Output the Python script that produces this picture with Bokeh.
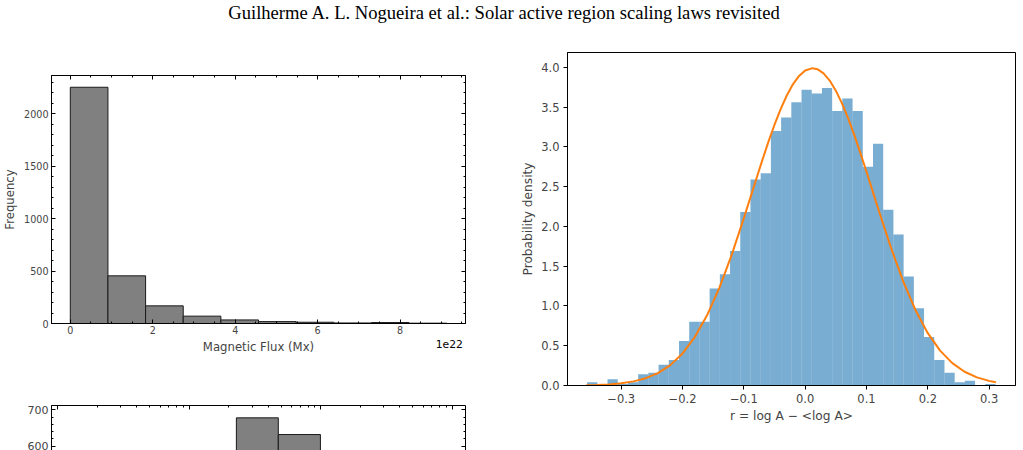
import numpy as np
from bokeh.plotting import figure
from bokeh.models import (Div, LinearAxis, SingleIntervalTicker, FixedTicker,
                          CustomJSTickFormatter)
from bokeh.layouts import column, row
from bokeh.embed import file_html
from bokeh.resources import INLINE

PAGE_HEADER = "Guilherme A. L. Nogueira et al.: Solar active region scaling laws revisited"

# Top-left panel: total magnetic flux of the regions, 10 linear bins (units of 1e22 Mx)
flux_edges = np.linspace(0.0, 9.13, 11)
flux_counts = [2250, 454, 168, 70, 34, 18, 12, 5, 9, 3]
flux_xlabel = "Magnetic Flux (Mx)"
flux_ylabel = "Frequency"
flux_offset = "1e22"

# Bottom-left panel (log-binned flux, upper part only)
logflux_edges = [2.28e21, 4.75e21, 9.93e21]
logflux_counts = [678, 632]

# Right panel: residual distribution with fitted normal density
resid_edges = np.linspace(-0.3556, 0.3104, 41)
resid_density = [0.04, 0.00, 0.08, 0.02, 0.04, 0.14, 0.16, 0.26, 0.32, 0.56,
                 0.80, 0.80, 1.22, 1.40, 1.69, 2.18, 2.59, 2.67, 3.20, 3.37,
                 3.56, 3.72, 3.67, 3.74, 3.45, 3.61, 3.45, 2.75, 3.04, 2.21,
                 1.90, 1.37, 0.97, 0.61, 0.32, 0.16, 0.04, 0.06, 0.00, 0.02]
fit_x = [-0.357, -0.34, -0.32, -0.30, -0.28, -0.26, -0.24, -0.22, -0.20, -0.18,
         -0.16, -0.14, -0.12, -0.10, -0.08, -0.07, -0.06, -0.05, -0.04, -0.03,
         -0.02, -0.01, 0.00, 0.012, 0.02, 0.03, 0.04, 0.05, 0.06, 0.07,
         0.08, 0.09, 0.10, 0.12, 0.14, 0.16, 0.18, 0.20, 0.22, 0.24,
         0.26, 0.28, 0.30, 0.311]
fit_y = [0.004, 0.007, 0.014, 0.028, 0.052, 0.092, 0.156, 0.256, 0.403, 0.609,
         0.882, 1.228, 1.640, 2.104, 2.591, 2.831, 3.063, 3.279, 3.476, 3.646,
         3.787, 3.893, 3.961, 3.990, 3.977, 3.925, 3.834, 3.707, 3.548, 3.361,
         3.152, 2.925, 2.688, 2.200, 1.730, 1.305, 0.946, 0.658, 0.439, 0.281,
         0.173, 0.102, 0.058, 0.042]
resid_xticks = [-0.3, -0.2, -0.1, 0.0, 0.1, 0.2, 0.3]
resid_yticks = [0.0, 0.5, 1.0, 1.5, 2.0, 2.5, 3.0, 3.5, 4.0]
resid_xlabel = "r = log A \u2212 <log A>"
resid_ylabel = "Probability density"

FONT = "DejaVu Sans"
blank = CustomJSTickFormatter(code="return ''")


def inward(ax, major=4, minor=2):
    ax.major_tick_in = major
    ax.major_tick_out = 0
    ax.minor_tick_in = minor
    ax.minor_tick_out = 0
    ax.axis_line_color = "black"
    ax.major_tick_line_color = "black"
    ax.minor_tick_line_color = "black"


# ---- top-left histogram ----
p1 = figure(width=510, height=345, x_range=(-0.456, 9.586), y_range=(0, 2362),
            output_backend="svg", toolbar_location=None,
            min_border_left=50, min_border_right=45,
            min_border_top=45, min_border_bottom=52)
p1.quad(left=flux_edges[:-1], right=flux_edges[1:], bottom=0, top=flux_counts,
        fill_color="#808080", line_color="#1a1a1a", line_width=1)
xt1 = SingleIntervalTicker(interval=2, num_minor_ticks=4)
yt1 = SingleIntervalTicker(interval=500, num_minor_ticks=5)
p1.xaxis.ticker = xt1
p1.yaxis.ticker = yt1
p1.add_layout(LinearAxis(ticker=xt1, formatter=blank), "above")
p1.add_layout(LinearAxis(ticker=yt1, formatter=blank), "right")
for ax in p1.axis:
    inward(ax)
    ax.major_label_text_font = FONT
    ax.major_label_text_font_size = "9.6px"
    ax.major_label_standoff = 2
    ax.axis_label_text_font = FONT
    ax.axis_label_text_font_size = "11.7px"
    ax.axis_label_text_font_style = "normal"
bottom_ax = p1.below[0]
left_ax = p1.left[0]
left_ax.major_label_standoff = 3
bottom_ax.axis_label = flux_xlabel
bottom_ax.axis_label_standoff = 3
left_ax.axis_label = flux_ylabel
left_ax.axis_label_standoff = 4
p1.grid.visible = False
p1.outline_line_color = "black"

# scale factor of the flux axis, drawn at the right end on the axis-label line
offset_text = Div(text=('<div style="font-family:\'DejaVu Sans\';font-size:10.8px;'
                        'line-height:12px;text-align:right;width:463px;'
                        'color:black">' + flux_offset + '</div>'),
                  width=510, height=39, margin=(-39, 0, 0, 0))

# ---- bottom-left histogram (log x) ----
p3 = figure(width=510, height=75, x_axis_type="log", x_range=(8.95e19, 1.26e23),
            y_range=(588, 712), x_axis_location="above",
            output_backend="svg", toolbar_location=None,
            min_border_left=48, min_border_right=45,
            min_border_top=30, min_border_bottom=0)
p3.quad(left=logflux_edges[:-1], right=logflux_edges[1:], bottom=0, top=logflux_counts,
        fill_color="#808080", line_color="#1a1a1a", line_width=1)
yt3 = SingleIntervalTicker(interval=100, num_minor_ticks=5)
p3.yaxis.ticker = yt3
p3.xaxis.formatter = blank
p3.add_layout(LinearAxis(ticker=yt3, formatter=blank), "right")
for ax in p3.axis:
    inward(ax)
    ax.major_label_text_font = FONT
    ax.major_label_text_font_size = "11px"
    ax.major_label_standoff = 3
p3.grid.visible = False
p3.outline_line_color = None

# ---- right: residual histogram ----
p2 = figure(width=513, height=420, x_range=(-0.3876, 0.343), y_range=(0, 4.187),
            output_backend="svg", toolbar_location=None,
            min_border_left=57, min_border_right=8,
            min_border_top=22, min_border_bottom=65)
p2.quad(left=resid_edges[:-1], right=resid_edges[1:], bottom=0, top=resid_density,
        fill_color="#1f77b4", fill_alpha=0.6, line_color=None)
p2.line(fit_x, fit_y, line_color="#ff7f0e", line_width=2)
fmt = CustomJSTickFormatter(code="return tick.toFixed(1).replace('-', '\u2212')")
p2.xaxis.ticker = FixedTicker(ticks=resid_xticks, minor_ticks=[])
p2.yaxis.ticker = FixedTicker(ticks=resid_yticks, minor_ticks=[])
for ax in p2.axis:
    ax.formatter = fmt
    ax.major_tick_in = 0
    ax.major_tick_out = 4
    ax.minor_tick_in = 0
    ax.minor_tick_out = 0
    ax.axis_line_color = "black"
    ax.major_tick_line_color = "black"
    ax.major_label_text_font = FONT
    ax.major_label_text_font_size = "11.5px"
    ax.major_label_standoff = 4
    ax.axis_label_text_font = FONT
    ax.axis_label_text_font_size = "12.2px"
    ax.axis_label_text_font_style = "normal"
    ax.axis_label_standoff = 3
p2.xaxis.axis_label = resid_xlabel
p2.yaxis.axis_label = resid_ylabel
p2.grid.visible = False
p2.outline_line_color = "black"

header = Div(text=('<div style="font-family:\'Liberation Serif\',serif;font-size:18.6px;'
                   'line-height:18.6px;padding-top:4px;text-align:center;width:1008px;'
                   'white-space:nowrap;color:black">' + PAGE_HEADER + '</div>'),
             width=1023, height=30, margin=0)

page = column(header, row(column(p1, offset_text, p3), p2))
open("out.html", "w").write(file_html(page, INLINE))
